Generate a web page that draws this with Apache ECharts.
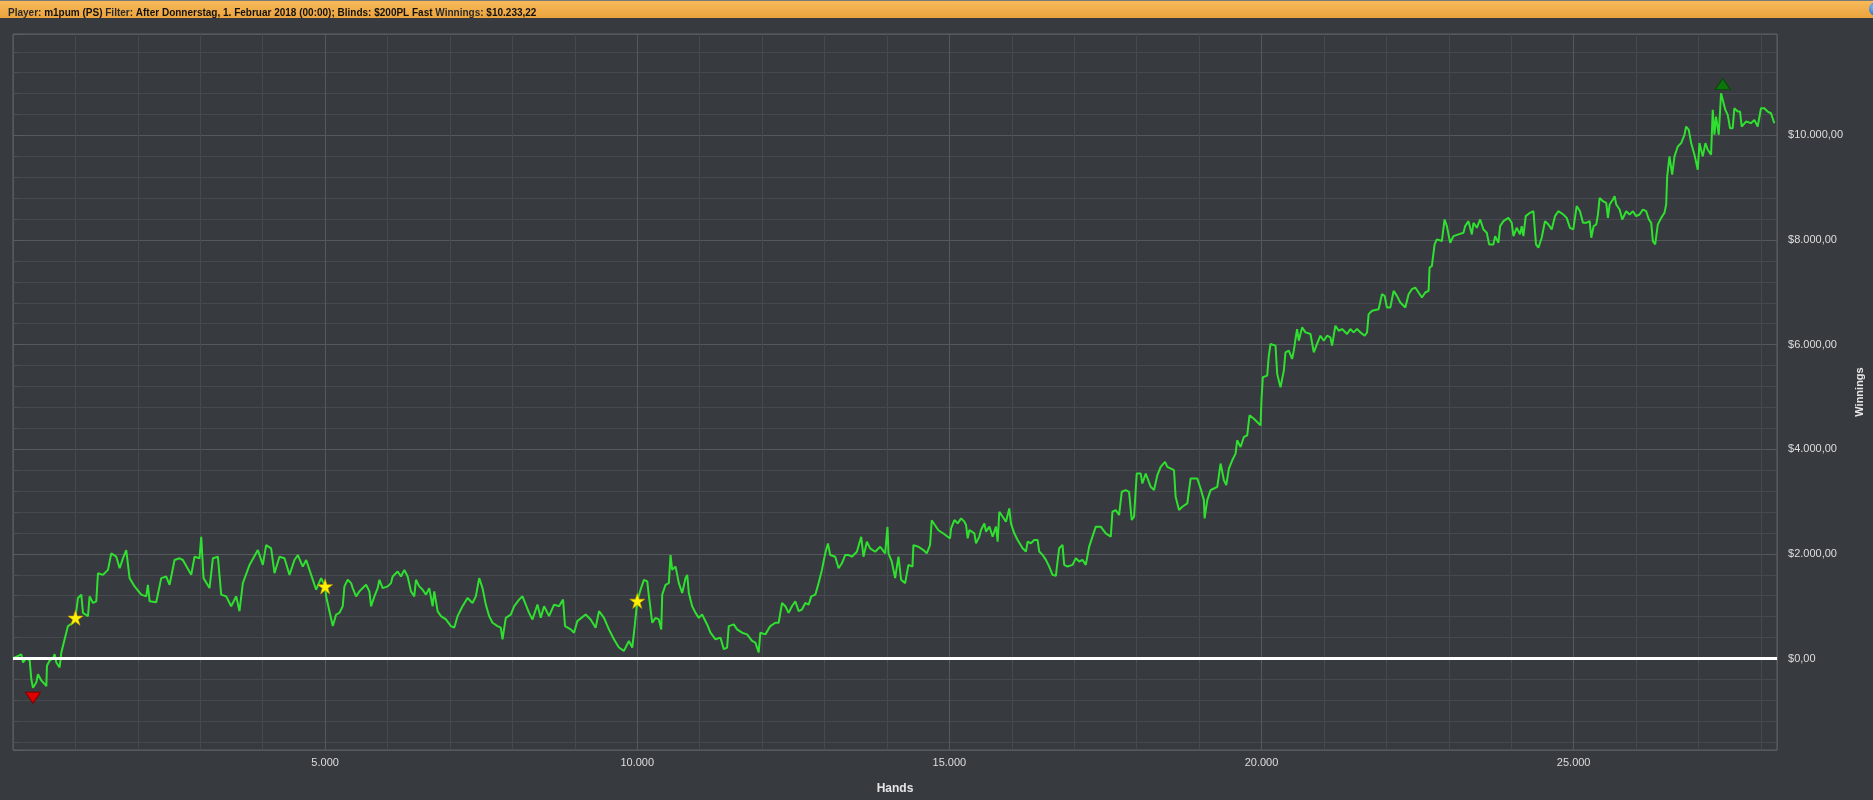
<!DOCTYPE html>
<html><head><meta charset="utf-8">
<script src="https://cdn.jsdelivr.net/npm/echarts@6/dist/echarts.min.js"></script>
<style>html,body{margin:0;padding:0;background:#373a3e;overflow:hidden}#c{width:1873px;height:800px}</style>
</head><body><div id="c"></div>
<script>
// ---- data ----
const hands = [
0,133,160,213,267,293,320,374,400,454,507,534,544,587,640,667,694,747,774,827,880,960,1000,1041,1094,1121,1201,1227,1281,1334,
1361,1441,1521,1574,1654,1708,1761,1814,1868,1948,2054,2134,2161,2188,2294,2375,2455,2508,2588,2668,2721,2855,2908,2988,3015,3052,3148,3202,3282,3335,
3415,3495,3575,3628,3682,3789,3922,4002,4055,4135,4189,4269,4349,4429,4509,4563,4642,4696,4776,4856,4936,5000,
5016,5069,5123,5149,5176,5229,5282,5309,5362,5416,5442,5496,5549,5602,5656,5709,5736,5789,5842,5869,5922,6002,6055,6082,6162,6215,6269,6295,6322,6375,
6428,6455,6508,6562,6615,6668,6722,6748,6802,6855,6935,7015,7068,7121,7201,7281,7361,7414,7468,7521,7574,7628,7681,7761,7814,7841,7894,7974,8027,8107,
8161,8214,8267,8321,8401,8454,8507,8587,8667,8747,8811,8843,8934,8987,9040,9173,9253,9333,9387,9467,9546,9626,9706,9786,9866,9920,9962,10000,
10053,10107,10160,10187,10240,10293,10346,10384,10400,10453,10506,10533,10560,10613,10666,10720,10773,10800,10826,10880,10933,10986,11039,11119,11173,11253,11333,11386,11439,11466,
11546,11599,11679,11759,11839,11892,11945,11972,12052,12132,12212,12265,12319,12372,12425,12478,12532,12585,12638,12692,12745,12788,12852,12905,12958,13011,13054,13091,13171,13225,
13278,13331,13385,13438,13518,13587,13624,13678,13731,13811,13891,13971,14008,14024,14077,14131,14184,14227,14291,14344,14408,14424,14504,14584,14637,14690,14717,14770,14824,14904,
15010,15027,15080,15133,15187,15240,15267,15293,15320,15400,15426,15480,15506,15560,15586,15640,15693,15746,15773,15800,15853,15906,15959,15986,16039,16093,16173,16226,16253,16306,
16359,16412,16439,16492,16546,16599,16652,16706,16732,16759,16812,16839,16892,16972,17025,17079,17132,17185,17239,17292,17345,17425,17505,17585,17612,17665,17718,17761,17825,17878,
17921,17958,18001,18065,18091,18145,18225,18278,18331,18385,18454,18491,18598,18624,18678,18731,18811,18864,18971,19024,19077,19088,19131,19184,19237,19291,19344,19397,19435,19477,
19531,19584,19610,19664,19717,19770,19808,19877,19930,19984,20000,20021,20090,20117,20144,
20171,20224,20251,20304,20330,20357,20384,20437,20490,20517,20544,20570,20597,20650,20704,20784,20837,20890,20943,20997,21050,21103,21130,21183,21237,21290,21370,21423,21476,21530,
21583,21652,21690,21716,21770,21876,21929,21972,22009,22063,22116,22169,22223,22303,22356,22409,22462,22516,22569,22622,22676,22692,22729,22772,22809,22889,22932,22969,23022,23075,
23155,23235,23262,23315,23369,23395,23449,23502,23555,23608,23646,23715,23742,23795,23822,23875,23955,24008,24035,24088,24141,24168,24195,24232,24301,24355,24381,24397,24435,24488,
24541,24595,24648,24701,24754,24834,24888,24941,24994,25048,25101,
25149,25203,25256,25282,25320,25362,25389,25416,25469,25522,25549,25576,25629,25656,25682,25736,25778,25842,25895,25949,26002,26055,26109,26162,26205,26242,26269,26306,26348,26402,
26455,26482,26498,26535,26578,26615,26668,26722,26775,26802,26844,26882,26935,26988,27015,27068,27111,27148,27201,27228,27255,27281,27324,27361,27388,27430,27468,27505,27548,27574,
27627,27665,27692,27761,27841,27894,27948,28001,28054,28107,28161,28214
];
const winnings = [
0,80,-76,0,-30,-392,-560,-455,-300,-420,-487,-530,-139,-40,0,82,-76,-170,114,367,620,683,777,1157,1220,872,809,1188,1062,1093,
1630,1599,1694,2010,1946,1725,1915,2073,1536,1378,1220,1188,1409,1093,1074,1536,1567,1409,1883,1915,1883,1599,1946,1915,2326,1536,1346,1915,1946,1220,
1188,998,1188,904,1441,1789,2073,1789,2168,2105,1630,1946,1915,1599,1883,1978,1757,1883,1599,1315,1536,1378,
1188,904,619,588,840,872,998,1378,1504,1441,1346,1188,1283,1346,1409,1283,998,1188,1346,1504,1346,1378,1441,1567,1662,1567,1694,1725,1567,1283,
1188,1504,1378,1315,1220,1346,998,1283,904,809,746,619,588,809,998,1157,1062,1188,1536,1346,1030,809,683,619,588,367,777,840,998,1125,
1188,1030,872,746,1030,777,998,809,1030,998,1125,619,556,493,714,840,746,588,904,777,556,367,209,145,335,209,651,1100,
1315,1504,1473,1188,683,777,746,556,1220,1409,1441,1978,1694,1757,1441,1251,1536,1599,1251,999,872,777,840,651,493,367,398,177,209,619,
651,556,493,461,335,303,114,493,461,619,683,683,1062,999,872,999,1093,904,935,1062,1030,1188,1220,1441,1694,2010,2199,1978,1946,1725,
1820,1978,1978,1946,2041,2326,1946,2231,2105,2041,2136,2010,2515,2010,1852,1536,1946,1504,1441,1789,1757,2168,2136,2073,2010,2168,2642,2547,2452,2389,
2294,2489,2647,2584,2679,2616,2552,2298,2457,2393,2203,2330,2457,2584,2425,2520,2330,2520,2235,2806,2711,2616,2870,2584,2393,2266,2108,2044,2235,2203,
2266,2266,2044,1981,1885,1758,1600,1580,1854,2108,2171,1790,1758,1790,1917,1854,1885,1790,2139,2330,2520,2520,2393,2330,2806,2838,2742,3187,3219,3187,
2647,2711,3536,3536,3346,3536,3282,3219,3504,3663,3758,3663,3600,3092,2838,2901,2965,3441,3441,3250,3028,2679,3028,3219,3250,3282,3727,3409,3314,3631,
3790,3917,4171,4044,4235,4266,4648,4584,4520,4457,4965,5378,5409,5790,6013,
6013,5981,5441,5187,5155,5504,5854,5886,5727,5886,6108,6298,6076,6330,6235,6203,5854,6013,6171,6076,6171,6139,5981,6362,6266,6298,6203,6298,6235,6298,
6235,6171,6235,6584,6648,6679,6965,6933,6711,6711,7028,6933,6806,6711,6965,7060,7092,6997,6902,6997,7028,7473,7505,7917,8013,7981,8394,8267,7949,8076,
8108,8140,8267,8362,8108,8330,8235,8394,8203,8140,7917,7917,8076,7949,8267,8362,8425,8330,8076,8235,8108,8267,8076,8457,8521,8552,8584,7917,7854,8044,
8362,8298,8203,8457,8552,8489,8425,8235,8203,8648,8552,
8330,8330,8362,8044,8267,8298,8489,8806,8743,8711,8425,8679,8775,8838,8679,8584,8394,8552,8489,8552,8457,8489,8584,8552,8394,8330,7981,7917,8298,8425,
8521,8679,9219,9600,9251,9600,9790,9854,10013,10171,10108,9854,9632,9346,9854,9600,9854,9727,9632,10489,10013,10362,10013,10806,10830,10489,10394,10140,10140,10521,
10457,10457,10171,10266,10235,10298,10171,10521,10521,10457,10425,10233
];
const milestones = [1000, 5000, 10000];   // hands where a star is drawn
const zeroLevel = 0;
const xMinValue = 0, xMaxValue = 28258, xStep = 5000;
const yMinValue = -1750, yMaxValue = 11940;
const headerPlayer = 'm1pum (PS)';
const headerFilter = 'After Donnerstag, 1. Februar 2018 (00:00); Blinds: $200PL Fast';
const headerWinnings = '$10.233,22';
const xAxisName = 'Hands', yAxisName = 'Winnings';

// ---- helpers ----
function groupDigits(n) {
  const s = Math.abs(Math.trunc(n)).toString().replace(/\B(?=(\d{3})+(?!\d))/g, '.');
  return (n < 0 ? '-' : '') + s;
}
function money(v) {
  const cents = Math.round(Math.abs(v) * 100) % 100;
  return '$' + groupDigits(v) + ',' + String(cents).padStart(2, '0');
}
const seriesData = hands.map((h, i) => [h, winnings[i]]);
const starPath = 'path://M50,0 L61.8,35.1 L98.1,35.1 L68.2,56.7 L79.4,91.9 L50,70 L20.6,91.9 L31.8,56.7 L1.9,35.1 L38.2,35.1 Z';
const downTriangle = 'path://M0,0 L20,0 L10,15 Z';
const upTriangle = 'path://M10,0 L20,15 L0,15 Z';
const starPoints = milestones.map(m => {
  const i = hands.indexOf(m);
  return { coord: [hands[i], winnings[i]], symbol: starPath, symbolSize: 15,
    itemStyle: { color: '#fff200', borderColor: '#c9a800', borderWidth: 0.6 } };
});

const font = 'Liberation Sans';
const chart = echarts.init(document.getElementById('c'), null, { renderer: 'canvas' });
chart.setOption({
  backgroundColor: '#373a3e',
  animation: false,
  textStyle: { fontFamily: font },
  title: {
    left: 3, top: 3,
    text: `{n|Player:} {b|${headerPlayer}} {n|Filter:} {b|${headerFilter}} {n|Winnings:} {b|${headerWinnings}}`,
    textStyle: {
      fontSize: 10,
      rich: {
        n: { fontSize: 10, color: '#2a2a2a', fontFamily: font },
        b: { fontSize: 10, color: '#111111', fontWeight: 'bold', fontFamily: font }
      }
    }
  },
  graphic: [
    { type: 'rect', z: -1, shape: { x: 0, y: 0, width: 1873, height: 18 },
      style: { fill: new echarts.graphic.LinearGradient(0, 0, 0, 1, [
        { offset: 0, color: '#f8bb5c' }, { offset: 1, color: '#eca33d' }]) } },
    { type: 'rect', z: -1, shape: { x: 0, y: 0, width: 1873, height: 1 }, style: { fill: '#7a7a7a' } },
    { type: 'circle', shape: { cx: 1876, cy: 9, r: 7 },
      style: { fill: new echarts.graphic.RadialGradient(0.35, 0.35, 0.8, [
        { offset: 0, color: '#7fc0ff' }, { offset: 1, color: '#1557a8' }]) } }
  ],
  grid: { left: 13, right: 94, top: 34, bottom: 46, show: true,
    borderColor: '#606367', borderWidth: 1, backgroundColor: 'transparent' },
  xAxis: {
    type: 'value', min: xMinValue, max: xMaxValue, interval: xStep,
    name: xAxisName, nameLocation: 'middle', nameGap: 33,
    nameTextStyle: { color: '#e6e6e6', fontWeight: 'bold', fontSize: 12, fontFamily: font },
    axisLine: { show: false },
    axisTick: { show: true, length: 5, lineStyle: { color: '#5a5d61' } },
    minorTick: { show: true, splitNumber: 5, length: 4, lineStyle: { color: '#4d5054' } },
    splitLine: { show: true, lineStyle: { color: '#55585c', width: 1 } },
    minorSplitLine: { show: true, lineStyle: { color: '#46494d', width: 1 } },
    axisLabel: { color: '#dedede', fontSize: 11, fontFamily: font, margin: 7,
      showMinLabel: false, showMaxLabel: false, formatter: v => groupDigits(v) }
  },
  yAxis: {
    type: 'value', position: 'right', min: yMinValue, max: yMaxValue, splitNumber: 7,
    name: yAxisName, nameLocation: 'middle', nameGap: 74, nameRotate: 90,
    nameTextStyle: { color: '#e6e6e6', fontWeight: 'bold', fontSize: 11, fontFamily: font },
    axisLine: { show: false },
    axisTick: { show: true, length: 9, lineStyle: { color: '#5a5d61' } },
    minorTick: { show: true, splitNumber: 5, length: 5, lineStyle: { color: '#4d5054' } },
    splitLine: { show: true, lineStyle: { color: '#55585c', width: 1 } },
    minorSplitLine: { show: true, lineStyle: { color: '#46494d', width: 1 } },
    axisLabel: { color: '#dedede', fontSize: 11, fontFamily: font, margin: 11,
      showMinLabel: false, showMaxLabel: false, formatter: v => money(v) }
  },
  series: [{
    type: 'line',
    data: seriesData,
    showSymbol: false,
    symbol: 'none',
    lineStyle: { color: '#30e030', width: 2 },
    itemStyle: { color: '#30e030' },
    markLine: {
      silent: true, symbol: 'none', animation: false,
      label: { show: false },
      lineStyle: { color: '#ffffff', width: 3, type: 'solid' },
      data: [{ yAxis: zeroLevel }]
    },
    markPoint: {
      silent: true, animation: false,
      label: { show: false },
      data: [
        { type: 'min', valueDim: 'y', symbol: downTriangle, symbolKeepAspect: false, symbolSize: [15, 11], symbolOffset: [0, 10],
          itemStyle: { color: '#e00000', borderColor: '#8a0000', borderWidth: 1 } },
        { type: 'max', valueDim: 'y', symbol: upTriangle, symbolKeepAspect: false, symbolSize: [15, 11], symbolOffset: [0, -8],
          itemStyle: { color: '#0c760c', borderColor: '#054a05', borderWidth: 1 } },
        ...starPoints
      ]
    }
  }]
});
</script>
</body></html>
